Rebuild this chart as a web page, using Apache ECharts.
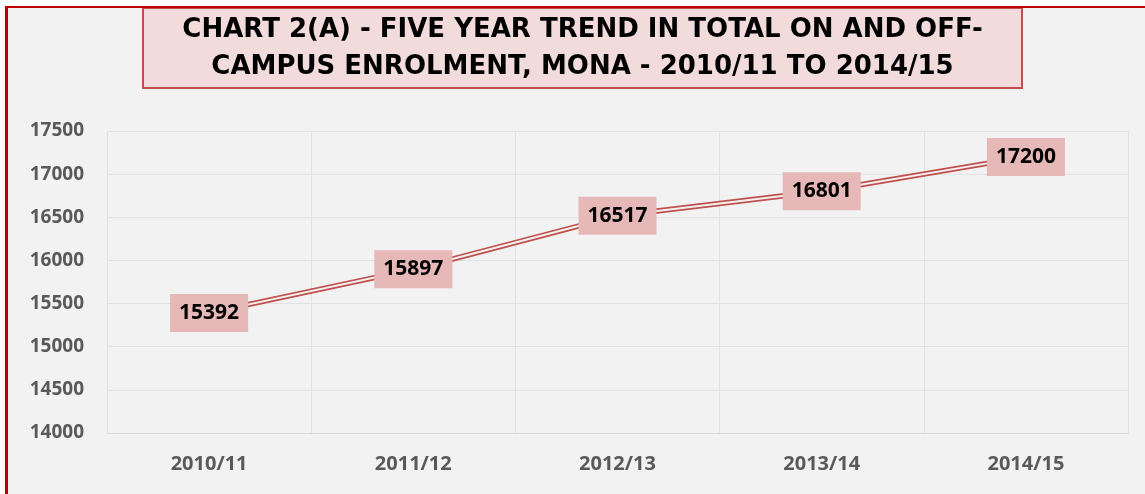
<!DOCTYPE html>
<html>
<head>
<meta charset="utf-8">
<script src="https://cdn.jsdelivr.net/npm/echarts@6/dist/echarts.min.js"></script>
<style>
html,body{margin:0;padding:0;background:#ffffff;width:1145px;height:494px;overflow:hidden;}
#frame{position:absolute;left:5px;top:6px;width:1140px;height:488px;border-left:3px solid #c00000;border-top:2px solid #c00000;background:#f2f2f2;}
#chart{width:1137px;height:486px;}
</style>
</head>
<body>
<div id="frame"><div id="chart"></div></div>
<script>
const titleLines = ['CHART 2(A) - FIVE YEAR TREND IN TOTAL ON AND OFF-', 'CAMPUS ENROLMENT, MONA - 2010/11 TO 2014/15'];
const categories = ['2010/11', '2011/12', '2012/13', '2013/14', '2014/15'];
const enrolment = [15392, 15897, 16517, 16801, 17200];
const yTicks = [14000, 14500, 15000, 15500, 16000, 16500, 17000, 17500];

const chart = echarts.init(document.getElementById('chart'), null, {renderer: 'canvas'});
const font = '"Open Sans", "Liberation Sans", sans-serif';
chart.setOption({
  backgroundColor: '#f2f2f2',
  animation: false,
  title: {
    text: titleLines.map(function (l) { return '{t|' + l + '}'; }).join('\n'),
    left: 135,
    top: 0,
    padding: [4, 0, 2, 0],
    backgroundColor: '#f2dcdb',
    borderColor: '#c0504d',
    borderWidth: 2,
    textStyle: {
      lineHeight: 37,
      fontSize: 26,
      rich: {
        t: {
          width: 879,
          height: 37,
          align: 'center',
          fontFamily: '"DejaVu Sans", sans-serif',
          fontWeight: 'bold',
          fontSize: 26,
          lineHeight: 37,
          color: '#000000'
        }
      }
    }
  },
  grid: {left: 99, right: 17, top: 123, bottom: 61, containLabel: false},
  xAxis: {
    type: 'category',
    data: categories,
    boundaryGap: true,
    axisLine: {show: true, lineStyle: {color: '#d9d9d9', width: 1}},
    axisTick: {show: false},
    splitLine: {show: true, lineStyle: {color: '#e2e2e2', width: 1}},
    axisLabel: {margin: 21, fontFamily: font, fontWeight: 'bold', fontSize: 20, color: '#595959'}
  },
  yAxis: {
    type: 'value',
    min: yTicks[0],
    max: yTicks[yTicks.length - 1],
    interval: 500,
    axisLine: {show: false},
    axisTick: {show: false},
    splitLine: {show: true, lineStyle: {color: '#e2e2e2', width: 1}},
    axisLabel: {margin: 23, fontFamily: font, fontWeight: 'bold', fontSize: 19, color: '#595959',
      formatter: function (v) { return String(v); }}
  },
  series: [
    {
      type: 'line', data: enrolment, z: 2,
      symbol: 'none',
      lineStyle: {color: '#c0504d', width: 5.5},
      silent: true
    },
    {
      type: 'line', data: enrolment, z: 3,
      symbol: 'none',
      lineStyle: {color: '#f2f2f2', width: 2},
      silent: true
    },
    {
      type: 'line', data: enrolment, z: 4,
      symbol: 'circle', symbolSize: 1,
      itemStyle: {color: 'rgba(0,0,0,0)'},
      lineStyle: {width: 0, opacity: 0},
      label: {
        show: true,
        position: 'inside',
        backgroundColor: '#e6b8b7',
        padding: [8, 9, 7, 9],
        fontFamily: font,
        fontWeight: 'bold',
        fontSize: 21,
        lineHeight: 23,
        color: '#000000'
      }
    }
  ]
});
</script>
</body>
</html>
